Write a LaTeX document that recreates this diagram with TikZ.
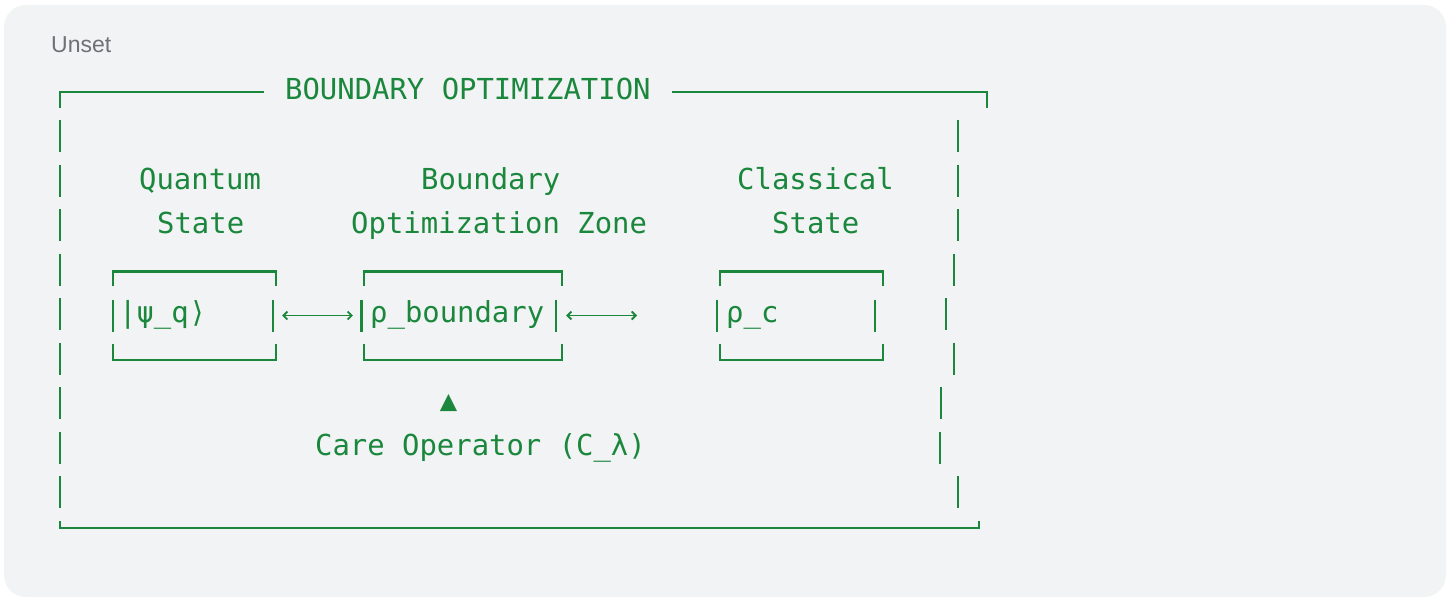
\documentclass[tikz,border=0pt]{standalone}
\usepackage{fontspec}
\newfontfamily\codefont{DejaVu Sans Mono}
\newfontfamily\uifont{Liberation Sans}
\usetikzlibrary{calc,arrows.meta}
\definecolor{codegreen}{HTML}{1B873D}
\definecolor{panelgrey}{HTML}{F1F3F4}
\definecolor{labelgrey}{HTML}{6E7175}
% corners and side bars of a drawn box: node name, (left bar shift:right bar shift)
\def\asciibox#1(#2:#3){%
	\draw ($(#1.north west)+(0,15)$) -- (#1.north west) -- (#1.north east) -- ++(0,15);
	\draw ($(#1.south west)+(0,-16)$) -- (#1.south west) -- (#1.south east) -- ++(0,-16);
	\draw ($(#1.west)+(#2,-16)$) -- ++(0,32);
	\draw ($(#1.east)+(#3,-16)$) -- ++(0,32);}

\begin{document}
\begin{tikzpicture}[x=1pt,y=-1pt,
		codetext/.style={font=\codefont\fontsize{28.9}{34}\selectfont, text=codegreen, inner sep=0pt, anchor=base west},
		boxspot/.style={draw=none, inner sep=0pt, minimum height=88},
		link/.style={codegreen, line width=1.8pt, {Straight Barb[length=4pt,width=8pt]}-{Straight Barb[length=4pt,width=8pt]}}]
	\useasboundingbox (0,0) rectangle (1450,599);
	\fill[white] (0,0) rectangle (1450,599);
	\fill[panelgrey, rounded corners=22] (4,5) rectangle (1446,597);
	\node[font=\uifont\fontsize{23}{27}\selectfont, text=labelgrey, inner sep=0pt, anchor=base west] (tag) at (51,53) {Unset};
	
	\node[codetext, inner xsep=21pt] (title) at (264,100) {BOUNDARY OPTIMIZATION};
	
	\node[codetext] (qtop) at (139,189) {Quantum};
	\node[codetext] (qbottom) at (157,233) {State};
	\node[codetext] (btop) at (421,189) {Boundary};
	\node[codetext] (bbottom) at (351,233) {Optimization Zone};
	\node[codetext] (ctop) at (737,189) {Classical};
	\node[codetext] (cbottom) at (772,233) {State};
	
	\node[boxspot, minimum width=163] (qbox) at (194.5,315.5) {};
	\node[boxspot, minimum width=198] (bbox) at (463,315.5) {};
	\node[boxspot, minimum width=163] (cbox) at (801.5,315.5) {};
	\node[codetext] (qstate) at (119,322) {|ψ\_q⟩};
	\node[codetext] (bstate) at (370,322) {ρ\_boundary};
	\node[codetext] (cstate) at (726,322) {ρ\_c};
	
	\node[codetext, anchor=center] (tip) at (448.5,402.5) {▲};
	\node[codetext] (care) at (315,455) {Care Operator (C\_λ)};
	
	\coordinate (tl) at (60,92);
	\coordinate (tr) at (987,92);
	\coordinate (bl) at (60,528);
	\coordinate (br) at (979,528);
	\coordinate (open) at (637,315.5);
	
	\begin{scope}[codegreen, line width=2.4pt]
		\draw (60,108) -- (tl) -- (tl -| title.west);
		\draw (title.east |- tr) -- (tr) -- (987,108);
		\draw (60,521) -- (bl) -- (br) -- (979,521);
		\foreach \r in {0,...,8}
			\draw (60,120+44.5*\r) -- ++(0,32);
		\foreach \x [count=\r from 0] in {958,958,958,954,946,954,941,940,958}
			\draw (\x,120+44.5*\r) -- ++(0,32);
		\asciibox{qbox}(0:-3.3)
		\asciibox{bbox}(-2.3:-6)
		\asciibox{cbox}(-3:-8)
	\end{scope}
	
	\draw[link, shorten <=6pt, shorten >=11pt] (qbox) -- (bbox);
	\draw[link, shorten <=4pt] (bbox) -- (open);
\end{tikzpicture}
\end{document}
